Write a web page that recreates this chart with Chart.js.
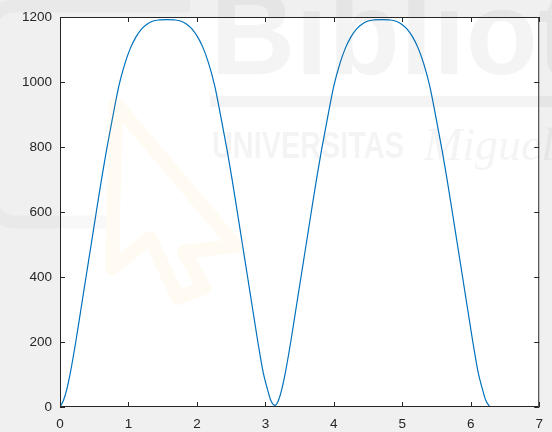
<!DOCTYPE html>
<html>
<head>
<meta charset="utf-8">
<script src="https://cdn.jsdelivr.net/npm/chart.js@4/dist/chart.umd.min.js"></script>
<style>
  html, body { margin: 0; padding: 0; background: #f0f0f0; }
  #wrap { width: 552px; height: 432px; position: relative; }
</style>
</head>
<body>
<div id="wrap"><canvas id="c" width="552" height="432"></canvas></div>
<script>
// Sampled curve: x positions and the matching y values
const xValues = [
  0, 0.05, 0.10, 0.15, 0.23, 0.30, 0.38, 0.45, 0.53, 0.61, 0.68, 0.76, 0.86, 0.95,
  1.03, 1.11, 1.19, 1.27, 1.35, 1.45, 1.56, 1.67, 1.77, 1.85, 1.93, 2.01, 2.09, 2.17,
  2.26, 2.36, 2.44, 2.51, 2.59, 2.67, 2.74, 2.82, 2.89, 2.97, 3.03, 3.08, 3.14,
  3.19, 3.24, 3.29, 3.37, 3.44, 3.52, 3.59, 3.67, 3.75, 3.82, 3.90, 4.00, 4.09,
  4.17, 4.25, 4.33, 4.41, 4.49, 4.59, 4.70, 4.81, 4.91, 4.99, 5.07, 5.15, 5.23, 5.31,
  5.40, 5.50, 5.58, 5.65, 5.73, 5.81, 5.88, 5.96, 6.03, 6.11, 6.17, 6.22, 6.28
];
const yValues = [
  0, 20, 55, 104, 200, 293, 400, 493, 600, 705, 791, 881, 988, 1058,
  1105, 1139, 1163, 1178, 1187, 1191, 1192, 1191, 1187, 1178, 1163, 1139, 1105, 1058,
  988, 881, 791, 705, 600, 493, 400, 293, 200, 104, 55, 20, 5,
  20, 55, 104, 200, 293, 400, 493, 600, 705, 791, 881, 988, 1058,
  1105, 1139, 1163, 1178, 1187, 1191, 1192, 1191, 1187, 1178, 1163, 1139, 1105, 1058,
  988, 881, 791, 705, 600, 493, 400, 293, 200, 104, 55, 20, 0
];
const xTicks = [0, 1, 2, 3, 4, 5, 6, 7];
const yTicks = [0, 200, 400, 600, 800, 1000, 1200];

const AXIS_COLOR = '#262626';
const LINE_COLOR = '#0072BD';
const FONT_FAMILY = '"Liberation Sans", Arial, Helvetica, sans-serif';

const points = xValues.map((x, i) => ({ x: x, y: yValues[i] }));

// Grey figure background with a white plotting box
const backdrop = {
  id: 'backdrop',
  beforeDraw(chart) {
    const { ctx, chartArea: a } = chart;
    ctx.save();
    ctx.fillStyle = '#f0f0f0';
    ctx.fillRect(0, 0, chart.width, chart.height);
    ctx.fillStyle = '#ffffff';
    ctx.fillRect(a.left, a.top, a.right - a.left, a.bottom - a.top);
    ctx.restore();
  }
};

// Faint library watermark printed over the page
const watermark = {
  id: 'watermark',
  afterDraw(chart) {
    const ctx = chart.ctx;
    ctx.save();
    // pale yellow cursor outline
    ctx.strokeStyle = 'rgba(255, 205, 70, 0.07)';
    ctx.lineWidth = 14;
    ctx.lineJoin = 'round';
    ctx.beginPath();
    ctx.moveTo(116, 104);
    ctx.lineTo(112, 268);
    ctx.lineTo(150, 238);
    ctx.lineTo(178, 298);
    ctx.lineTo(204, 288);
    ctx.lineTo(184, 252);
    ctx.lineTo(236, 246);
    ctx.closePath();
    ctx.stroke();

    ctx.fillStyle = 'rgba(70, 70, 70, 0.06)';
    ctx.strokeStyle = 'rgba(70, 70, 70, 0.035)';
    // rounded frame of the logo on the left
    ctx.lineWidth = 13;
    ctx.beginPath();
    ctx.moveTo(190, 6);
    ctx.lineTo(10, 6);
    ctx.arcTo(-12, 6, -12, 40, 28);
    ctx.lineTo(-12, 196);
    ctx.arcTo(-12, 222, 20, 222, 28);
    ctx.lineTo(106, 222);
    ctx.stroke();
    // large lettering
    ctx.font = 'bold 118px ' + FONT_FAMILY;
    ctx.textBaseline = 'alphabetic';
    ctx.fillText('Biblioteca', 210, 74);
    ctx.fillRect(210, 96, 342, 11);
    ctx.save();
    ctx.translate(212, 158);
    ctx.scale(0.78, 1);
    ctx.font = 'bold 37px ' + FONT_FAMILY;
    ctx.fillText('UNIVERSITAS', 0, 0);
    ctx.restore();
    ctx.font = 'italic 46px "Liberation Serif", "DejaVu Serif", serif';
    ctx.fillText('Miguel Hernández', 424, 160);
    ctx.restore();
  }
};

// Axes box with inward tick marks on all four sides
const axesBox = {
  id: 'axesBox',
  afterDatasetsDraw(chart) {
    const { ctx, chartArea: a, scales } = chart;
    const len = 5;
    ctx.save();
    ctx.strokeStyle = AXIS_COLOR;
    ctx.lineWidth = 1;
    ctx.beginPath();
    ctx.rect(a.left + 0.5, a.top + 0.5, a.right - a.left - 1, a.bottom - a.top - 1);
    xTicks.forEach(v => {
      const px = Math.round(scales.x.getPixelForValue(v)) + 0.5;
      ctx.moveTo(px, a.bottom);
      ctx.lineTo(px, a.bottom - len);
      ctx.moveTo(px, a.top);
      ctx.lineTo(px, a.top + len);
    });
    yTicks.forEach(v => {
      const py = Math.round(scales.y.getPixelForValue(v)) + 0.5;
      ctx.moveTo(a.left, py);
      ctx.lineTo(a.left + len, py);
      ctx.moveTo(a.right, py);
      ctx.lineTo(a.right - len, py);
    });
    ctx.stroke();
    ctx.restore();
  }
};

new Chart(document.getElementById('c'), {
  type: 'line',
  data: {
    datasets: [{
      data: points,
      borderColor: LINE_COLOR,
      borderWidth: 1.2,
      pointRadius: 0,
      fill: false,
      cubicInterpolationMode: 'monotone'
    }]
  },
  options: {
    responsive: false,
    animation: false,
    devicePixelRatio: 1,
    layout: { padding: { left: 0, top: 17, right: 8, bottom: 0 } },
    plugins: { legend: { display: false }, tooltip: { enabled: false } },
    scales: {
      x: {
        type: 'linear',
        min: 0,
        max: 7,
        border: { display: false },
        grid: { display: false, drawTicks: false },
        afterBuildTicks: s => { s.ticks = xTicks.map(v => ({ value: v })); },
        afterFit: s => { s.height = 25; },
        ticks: {
          padding: 9,
          color: AXIS_COLOR,
          font: { family: FONT_FAMILY, size: 13.5 },
          maxRotation: 0,
          callback: v => String(v)
        }
      },
      y: {
        type: 'linear',
        min: 0,
        max: 1200,
        border: { display: false },
        grid: { display: false, drawTicks: false },
        afterBuildTicks: s => { s.ticks = yTicks.map(v => ({ value: v })); },
        afterFit: s => { s.width = 60; },
        ticks: {
          padding: 8,
          color: AXIS_COLOR,
          font: { family: FONT_FAMILY, size: 13.5 },
          callback: v => String(v)
        }
      }
    }
  },
  plugins: [backdrop, axesBox, watermark]
});
</script>
</body>
</html>
